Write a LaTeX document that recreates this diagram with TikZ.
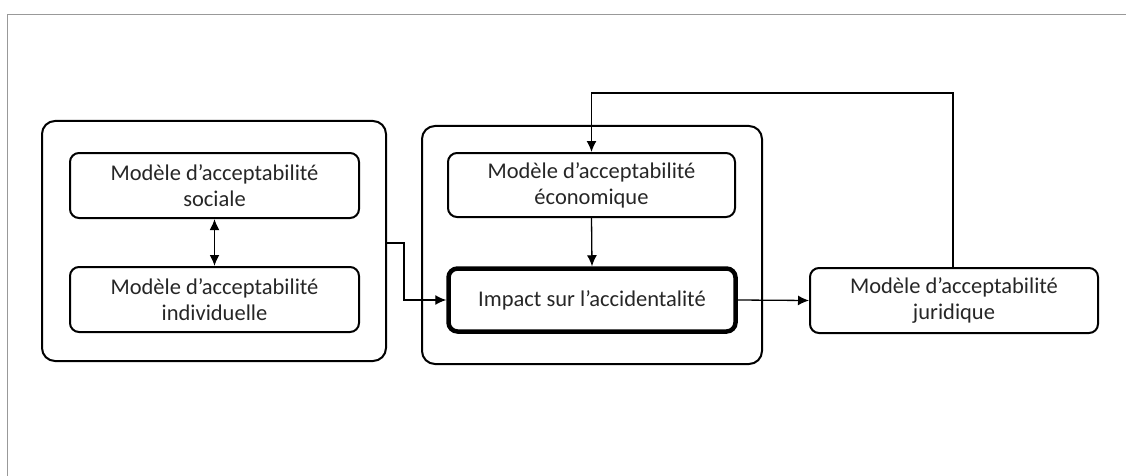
\documentclass[tikz,border=0pt]{standalone}
\usepackage{fontspec}
\setmainfont{Carlito}
\usetikzlibrary{arrows.meta}
\begin{document}
\begin{tikzpicture}[x=1pt,y=-1pt,
  box/.style={draw=black,line width=2pt,rounded corners=9pt,align=center,inner sep=0pt,
     font=\fontsize{22.5}{26}\selectfont,text=black!85},
  grp/.style={draw=black,line width=2pt,rounded corners=13pt},
  thick box/.style={box,line width=4.5pt},
  conn/.style={line width=1.3pt,-{Latex[length=11pt,width=10pt]}},
  dconn/.style={line width=1.8pt,{Latex[length=11pt,width=10pt]}-{Latex[length=11pt,width=10pt]}}]
\useasboundingbox (0,0) rectangle (1126,476);
\draw[black!40,line width=0.8pt] (7,476) -- (7,14) -- (1126,14);
% groups
\draw[grp] (42,121) rectangle (386,361);
\draw[grp] (422,126) rectangle (762,364);
% boxes
\node[box,minimum width=289pt,minimum height=65pt] (soc) at (214.5,185.5) {Modèle d’acceptabilité\\sociale};
\node[box,minimum width=289pt,minimum height=65pt] (ind) at (214.5,299.5) {Modèle d’acceptabilité\\individuelle};
\node[box,minimum width=287pt,minimum height=64pt] (eco) at (591.5,185) {Modèle d’acceptabilité\\économique};
\node[thick box,minimum width=287pt,minimum height=63pt] (imp) at (592,300) {Impact sur l’accidentalité};
\node[box,minimum width=288pt,minimum height=65pt] (jur) at (954,300.5) {Modèle d’acceptabilité\\juridique};
\coordinate (gl) at (386,243);
\coordinate (top) at (953,93);
% connectors
\draw[dconn] (soc.south) -- (ind.north);
\draw[conn] (gl) -- (404,243) |- (imp.west);
\draw[conn] (eco.south) -- (imp.north);
\draw[conn] (imp.east) -- (jur.west);
\draw[conn] (jur.north -| top) -- (top) -| (eco.north);
\end{tikzpicture}
\end{document}
